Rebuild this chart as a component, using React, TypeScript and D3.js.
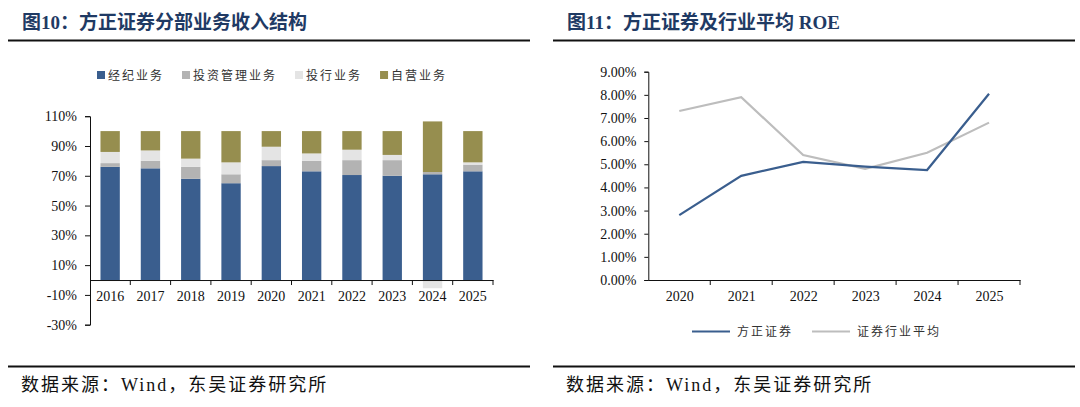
import React, { useEffect, useRef } from 'react';
import * as d3 from 'd3';

// left chart: revenue structure by segment (%)
const years = ['2016', '2017', '2018', '2019', '2020', '2021', '2022', '2023', '2024', '2025'];
const segmentNames = ['经纪业务', '投资管理业务', '投行业务', '自营业务'];
const brokerage = [76, 75, 68, 65, 76.5, 73, 70.5, 70, 71, 73];
const assetMgmt = [2.5, 5, 8, 6, 4, 7, 10, 10.5, 1.5, 4.5];
const invBanking = [7.5, 7, 5.5, 8, 9, 5, 7, 3.5, -5.5, 1.5];
const proprietary = [14, 13, 18.5, 21, 10.5, 15, 12.5, 16, 34, 21];
const barTicks = [-30, -10, 10, 30, 50, 70, 90, 110];

// right chart: ROE (%)
const roeYears = ['2020', '2021', '2022', '2023', '2024', '2025'];
const roeNames = ['方正证券', '证券行业平均'];
const founderRoe = [2.8, 4.5, 5.1, 4.9, 4.75, 8.05];
const industryRoe = [7.3, 7.9, 5.4, 4.8, 5.5, 6.8];
const roeTicks = [0, 1, 2, 3, 4, 5, 6, 7, 8, 9];

const segColors = ['#3a5e8e', '#b3b3b3', '#e4e4e4', '#968e4f'];
const lineColors = ['#3a5e8e', '#bdbdbd'];
const serif = '"Liberation Serif", "Times New Roman", "Noto Sans CJK SC", serif';
const cjk = '"Noto Sans CJK SC", "Liberation Serif", sans-serif';

const App: React.FC = () => {
    const svgRef = useRef<SVGSVGElement>(null);

    useEffect(() => {
        const svg = d3.select(svgRef.current);
        svg.selectAll('*').remove();

        // frame: titles, rules, sources
        const panels = [
            { x0: 8, x1: 530, tx: 22, title: '图10：方正证券分部业务收入结构' },
            { x0: 553, x1: 1075, tx: 567, title: '图11：方正证券及行业平均 ROE' },
        ];
        panels.forEach(p => {
            svg.append('text')
                .attr('x', p.tx).attr('y', 29)
                .attr('font-family', serif)
                .attr('font-size', 19)
                .attr('font-weight', 'bold')
                .attr('fill', '#1f3a64')
                .text(p.title);
            [40.5, 366.5].forEach(y => {
                svg.append('line')
                    .attr('x1', p.x0).attr('x2', p.x1)
                    .attr('y1', y).attr('y2', y)
                    .attr('stroke', '#111').attr('stroke-width', 2.2);
            });
            svg.append('text')
                .attr('x', p.tx - 1).attr('y', 391)
                .attr('font-family', serif)
                .attr('font-size', 18)
                .attr('letter-spacing', 2)
                .attr('fill', '#111')
                .text('数据来源：Wind，东吴证券研究所');
        });

        // ---------- left: stacked bars ----------
        const x = d3.scaleBand().domain(years).range([90, 493]).paddingInner(0.52).paddingOuter(0.26);
        const y = d3.scaleLinear().domain([-30, 110]).range([324.7, 116.2]);

        const rows = years.map((yr, i) => ({
            year: yr,
            s0: brokerage[i], s1: assetMgmt[i], s2: invBanking[i], s3: proprietary[i],
        }));
        const stack = d3.stack<any>().keys(['s0', 's1', 's2', 's3']).offset(d3.stackOffsetDiverging);
        const series = stack(rows);

        const bars = svg.append('g');
        series.forEach((s, k) => {
            bars.selectAll(null)
                .data(s)
                .enter().append('rect')
                .attr('x', d => x(d.data.year) || 0)
                .attr('width', x.bandwidth())
                .attr('y', d => y(Math.max(d[0], d[1])))
                .attr('height', d => Math.abs(y(d[0]) - y(d[1])))
                .attr('fill', segColors[k]);
        });

        const yAxis = svg.append('g')
            .attr('transform', 'translate(90,0)')
            .call(d3.axisLeft(y).tickValues(barTicks).tickFormat(d => `${d}%`).tickSizeOuter(0).tickSize(5).tickPadding(8));
        yAxis.attr('font-family', serif).attr('font-size', 14);
        yAxis.selectAll('text').attr('fill', '#111');
        yAxis.selectAll('line, path').attr('stroke', '#111');

        const xAxis = svg.append('g')
            .attr('transform', `translate(0,${y(0)})`)
            .call(d3.axisBottom(x).tickSize(0).tickPadding(11).tickSizeOuter(0));
        xAxis.attr('font-family', serif).attr('font-size', 14);
        xAxis.selectAll('text').attr('fill', '#111');
        xAxis.select('.domain').attr('stroke', '#111');
        xAxis.selectAll(null)
            .data(d3.range(1, years.length + 1))
            .enter().append('line')
            .attr('x1', i => x.range()[0] + i * x.step())
            .attr('x2', i => x.range()[0] + i * x.step())
            .attr('y1', 0).attr('y2', 5)
            .attr('stroke', '#111');

        // legend
        let lx = 97;
        segmentNames.forEach((name, k) => {
            svg.append('rect')
                .attr('x', lx).attr('y', 71).attr('width', 8).attr('height', 8)
                .attr('fill', segColors[k]);
            const t = svg.append('text')
                .attr('x', lx + 11).attr('y', 79.5)
                .attr('font-family', cjk)
                .attr('font-size', 12)
                .attr('letter-spacing', 2)
                .attr('fill', '#333')
                .text(name);
            const w = (t.node() as SVGTextElement).getComputedTextLength();
            lx = lx + 11 + w + 18;
        });

        // ---------- right: ROE lines ----------
        const xr = d3.scalePoint().domain(roeYears).range([648.3, 1020]).padding(0.5);
        const yr = d3.scaleLinear().domain([0, 9]).range([280, 71.7]);

        const ryAxis = svg.append('g')
            .attr('transform', 'translate(648.3,0)')
            .call(d3.axisLeft(yr).tickValues(roeTicks).tickFormat(d => `${(+d).toFixed(2)}%`).tickSizeOuter(0).tickSize(4).tickPadding(8));
        ryAxis.attr('font-family', serif).attr('font-size', 14);
        ryAxis.selectAll('text').attr('fill', '#111');
        ryAxis.selectAll('line, path').attr('stroke', '#111');

        const rxAxis = svg.append('g')
            .attr('transform', `translate(0,${yr(0)})`)
            .call(d3.axisBottom(xr).tickSize(0).tickPadding(11).tickSizeOuter(0));
        rxAxis.attr('font-family', serif).attr('font-size', 14);
        rxAxis.selectAll('text').attr('fill', '#111');
        rxAxis.select('.domain').attr('stroke', '#111');
        rxAxis.selectAll(null)
            .data(d3.range(1, roeYears.length + 1))
            .enter().append('line')
            .attr('x1', i => xr.range()[0] + i * xr.step())
            .attr('x2', i => xr.range()[0] + i * xr.step())
            .attr('y1', 0).attr('y2', 5)
            .attr('stroke', '#111');

        const line = d3.line<number>()
            .x((d, i) => xr(roeYears[i]) || 0)
            .y(d => yr(d));
        [industryRoe, founderRoe].forEach((vals, j) => {
            svg.append('path')
                .datum(vals)
                .attr('d', line)
                .attr('fill', 'none')
                .attr('stroke', lineColors[1 - j])
                .attr('stroke-width', 2.2);
        });

        let rx = 692;
        roeNames.forEach((name, k) => {
            svg.append('line')
                .attr('x1', rx).attr('x2', rx + 38)
                .attr('y1', 331.5).attr('y2', 331.5)
                .attr('stroke', lineColors[k]).attr('stroke-width', 2.2);
            const t = svg.append('text')
                .attr('x', rx + 45).attr('y', 336)
                .attr('font-family', cjk)
                .attr('font-size', 12)
                .attr('letter-spacing', 2)
                .attr('fill', '#333')
                .text(name);
            const w = (t.node() as SVGTextElement).getComputedTextLength();
            rx = rx + 45 + w + 19;
        });
    }, []);

    return (
        <svg
            ref={svgRef}
            width={1080}
            height={407}
            style={{ position: 'absolute', left: 0, top: 0, background: '#fff' }}
        />
    );
};

export default App;
